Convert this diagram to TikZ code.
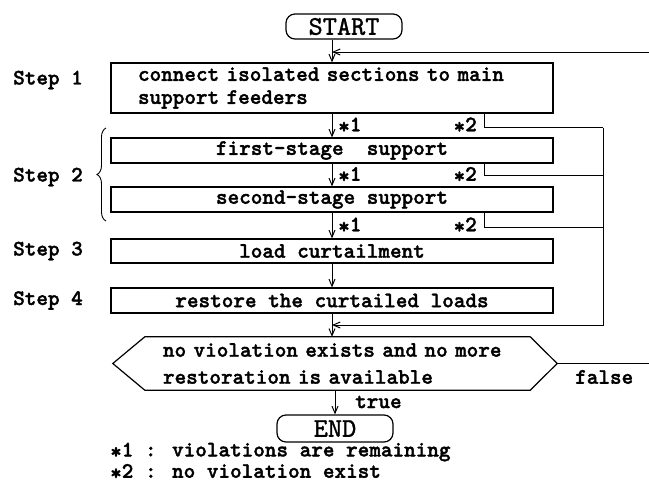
\documentclass[tikz,border=0pt]{standalone}
\usepackage{fontspec}
\usetikzlibrary{arrows.meta,calc,decorations.pathreplacing}
\newfontfamily\chartfont{lmmonolt10-bold.otf}[FakeBold=1.6]
\newfontfamily\termfont{lmmono10-regular.otf}[FakeBold=1.2]
\newcommand\starmark{\raisebox{-0.1em}{*}}

\tikzset{
  txt/.style={inner sep=0pt, font=\chartfont\fontsize{22.1pt}{23pt}\selectfont},
  stepbox/.style={txt, draw, line width=1.2pt, minimum width=442pt},
  term/.style={draw, line width=1.2pt, rounded corners=9pt, minimum width=116pt,
    inner sep=0pt, font=\termfont\fontsize{27pt}{27pt}\selectfont},
  flow/.style={line width=1pt},
  arr/.style={flow, -{Straight Barb[length=7pt,width=6pt]}},
}

\begin{document}
\begin{tikzpicture}[x=1pt,y=-1pt]
\useasboundingbox (0,0) rectangle (649,485);

% terminals and process boxes
\node[term, minimum height=25pt] (start) at (344,26.5) {START};
\node[stepbox, minimum height=50pt, text width=388pt, align=left, inner xsep=27pt]
  (s1) at (332,88) {connect isolated sections to main\\support feeders};
\node[stepbox, minimum height=25pt] (f1) at (332,150.5) {first-stage\ \ support};
\node[stepbox, minimum height=25pt] (f2) at (332,199.5) {second-stage support};
\node[stepbox, minimum height=24pt] (s3) at (332,251) {load curtailment};
\node[stepbox, minimum height=25pt] (s4) at (332,300.5) {restore the curtailed loads};

% decision
\node[txt, font=\chartfont\fontsize{22.1pt}{27pt}\selectfont,
  text width=362pt, align=left, minimum height=53pt] (dec) at (344,363.5)
  {no violation exists and no more\\restoration is available};
\draw[line width=1.2pt] ([xshift=-18pt]dec.north west) -- ([xshift=5pt]dec.north east)
  -- ([xshift=32pt]dec.east) coordinate (decR) -- ([xshift=5pt]dec.south east)
  -- ([xshift=-18pt]dec.south west) -- ([xshift=-50pt]dec.west) -- cycle;

\node[term, minimum height=27pt] (endn) at (335,428.5) {END};

% step labels
\coordinate (lx) at (13,0);
\node[txt, anchor=west] (l1) at (13,80) {Step 1};
\node[txt, anchor=west] (l2) at (13,177) {Step 2};
\node[txt, anchor=west] (l3) at (lx |- s3) {Step 3};
\node[txt, anchor=west] (l4) at (lx |- s4) {Step 4};
\draw[decorate, decoration={brace, amplitude=9pt}, line width=0.9pt] (106,221) -- (106,128);

% main flow
\draw[arr] (s1.north |- start.south) -- (s1.north);
\draw[arr] (s1.south) -- (f1.north);
\draw[arr] (f1.south) -- (f2.north);
\draw[arr] (f2.south) -- (s3.north);
\draw[arr] (s3.south) -- (s4.north);
\draw[arr] (s4.south) -- (s4.south |- dec.north);
\draw[arr] (dec.south -| endn.north) -- (endn.north);

% return line at the top and the false exit
\coordinate (topin) at (649,52);
\draw[arr] (topin) -- (topin -| s1.north);
\coordinate (falseout) at (649,363.5);
\draw[flow] (decR) -- (falseout);

% "no violation" branches
\coordinate (bx) at (484,0);
\coordinate (rx) at (603,0);
\coordinate (j2) at (0,325);
\draw[flow] (bx |- s1.south) -- ++(0,14) coordinate (k1) -- (k1 -| rx) coordinate (r1);
\draw[flow] (bx |- f1.south) -- ++(0,12) coordinate (k2) -- (k2 -| rx);
\draw[flow] (bx |- f2.south) -- ++(0,15) coordinate (k3) -- (k3 -| rx);
\draw[arr] (r1) -- (rx |- j2) -- (s4.south |- j2);

% branch marks
\node[txt, anchor=west] (a1) at ([xshift=6pt]$(s1.south)!.5!(f1.north)$) {\starmark1};
\node[txt, anchor=west] (a2) at ([xshift=6pt]$(f1.south)!.5!(f2.north)$) {\starmark1};
\node[txt, anchor=west] (a3) at ([xshift=6pt]$(f2.south)!.5!(s3.north)$) {\starmark1};
\node[txt, anchor=east] (b1) at ([xshift=-7pt]$(bx |- s1.south)!.5!(bx |- f1.north)$) {\starmark2};
\node[txt, anchor=east] (b2) at ([xshift=-7pt]$(bx |- f1.south)!.5!(bx |- f2.north)$) {\starmark2};
\node[txt, anchor=east] (b3) at ([xshift=-7pt]$(bx |- f2.south)!.5!(bx |- s3.north)$) {\starmark2};

\node[txt, anchor=west] (tr) at (355,402) {true};
\node[txt, anchor=west] (fa) at (575,377) {false};

% notes
\node[txt, anchor=west] (n1) at (110,452) {\starmark1 : violations are remaining};
\node[txt, anchor=west] (n2) at (110,472) {\starmark2 : no violation exist};
\end{tikzpicture}
\end{document}
